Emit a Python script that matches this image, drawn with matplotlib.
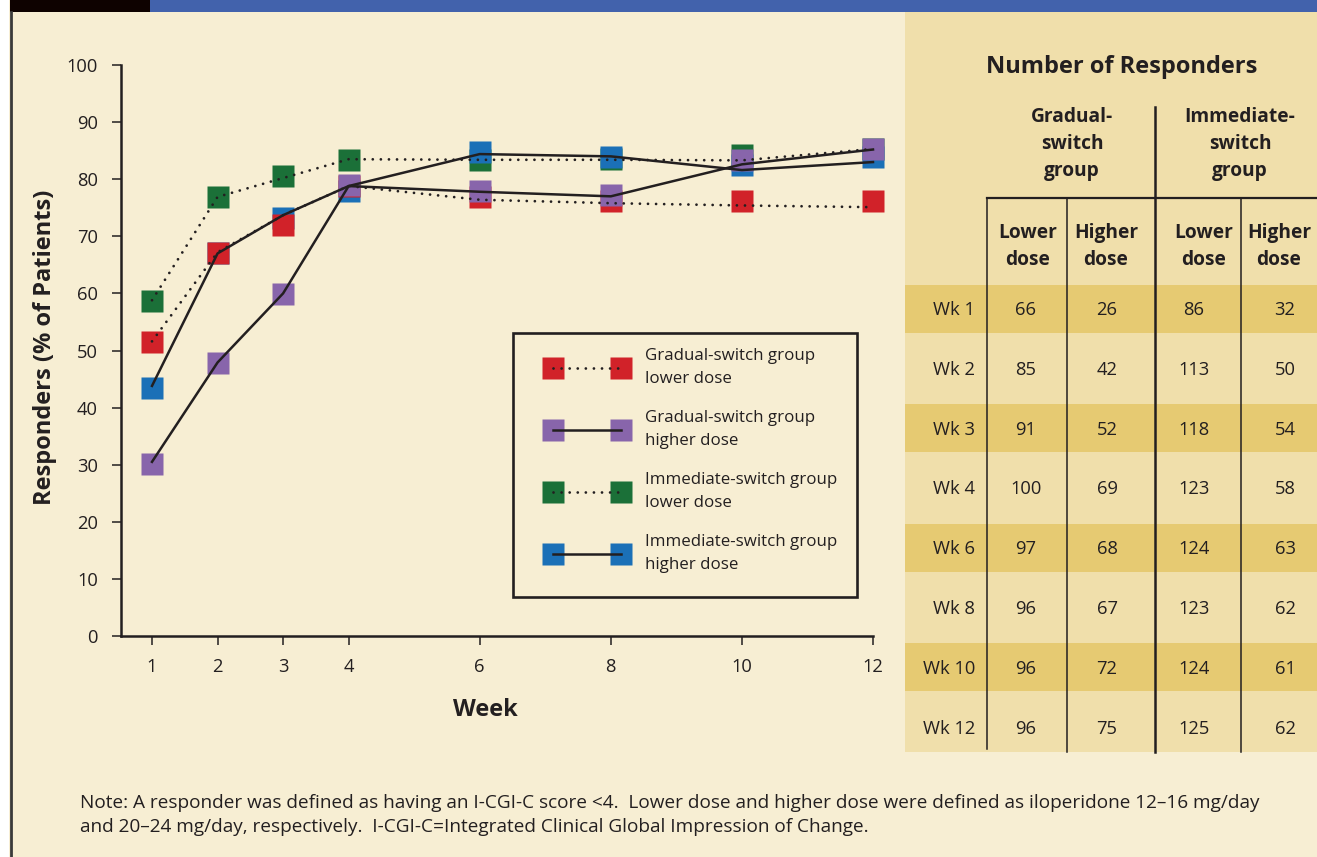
import matplotlib
matplotlib.use('Agg')
import matplotlib.pyplot as plt
from matplotlib.lines import Line2D
from matplotlib.patches import Rectangle
from matplotlib.legend_handler import HandlerLine2D, HandlerTuple

plt.rcParams['font.family'] = ['Open Sans', 'DejaVu Sans']

W, H = 1317, 857

# ---- chart data (responders, % of patients) ----
weeks = [1, 2, 3, 4, 6, 8, 10, 12]

# square markers
gs_low_pts = [51.5, 67.1, 72.0, 78.8, 76.9, 76.1, 76.2, 76.2]
gs_high_pts = [30.1, 47.8, 59.9, 79.0, 77.9, 77.2, 83.4, 85.3]
is_low_pts = [58.7, 76.9, 80.6, 83.4, 83.4, 83.6, 84.2, 85.3]
is_high_pts = [43.4, 67.0, 73.2, 78.0, 84.8, 83.9, 82.5, 83.9]

# connecting lines
gs_low_line = [51.6, 67.2, 73.7, 78.8, 76.4, 75.8, 75.4, 75.1]
gs_high_line = [30.5, 47.9, 60.0, 78.8, 77.8, 77.0, 82.6, 85.2]
is_low_line = [58.8, 76.9, 80.2, 83.5, 83.4, 83.4, 83.3, 85.3]
is_high_line = [43.8, 67.0, 73.7, 78.8, 84.4, 84.0, 81.6, 83.0]

series_labels = ['Gradual-switch group\nlower dose',
                 'Gradual-switch group\nhigher dose',
                 'Immediate-switch group\nlower dose',
                 'Immediate-switch group\nhigher dose']

# ---- table data (number of responders) ----
row_labels = ['Wk 1', 'Wk 2', 'Wk 3', 'Wk 4', 'Wk 6', 'Wk 8', 'Wk 10', 'Wk 12']
gs_lower_n = [66, 85, 91, 100, 97, 96, 96, 96]
gs_higher_n = [26, 42, 52, 69, 68, 67, 72, 75]
is_lower_n = [86, 113, 118, 123, 124, 123, 124, 125]
is_higher_n = [32, 50, 54, 58, 63, 62, 61, 62]

note_lines = ['Note: A responder was defined as having an I-CGI-C score <4.  Lower dose and higher dose were defined as iloperidone 12\u201316 mg/day',
              'and 20\u201324 mg/day, respectively.  I-CGI-C=Integrated Clinical Global Impression of Change.']

# colours
ink = '#231f20'
bg = '#f7eed3'
tab_light = '#f0dfab'
tab_dark = '#e6ca72'
red, purple, green, blue = '#d12229', '#8865ab', '#1b7038', '#1b70b7'

fig = plt.figure(figsize=(W / 100, H / 100), dpi=100, facecolor=bg)

# background / decoration layer in pixel coordinates
bgax = fig.add_axes([0, 0, 1, 1], zorder=0)
bgax.set_xlim(0, W)
bgax.set_ylim(H, 0)
bgax.axis('off')
bgax.add_patch(Rectangle((0, 0), 9, H, color='white', lw=0))
bgax.add_patch(Rectangle((10, 0), 140, 12, color='#0e0200', lw=0))
bgax.add_patch(Rectangle((150, 0), W - 150, 12, color='#4262ac', lw=0))
bgax.plot([10.5, 10.5], [12, H], color='#3a3a3a', lw=2)

# legend frame
bgax.add_patch(Rectangle((513, 333), 344, 264, facecolor=bg, edgecolor=ink, lw=1.9))

# table
bgax.add_patch(Rectangle((905, 12), W - 905, 740, color=tab_light, lw=0))
row_base0, row_step = 315, 59.8
for i in range(0, len(row_labels), 2):
    yc = row_base0 - 6.5 + i * row_step
    bgax.add_patch(Rectangle((905, yc - 24), W - 905, 48, color=tab_dark, lw=0))
bgax.plot([987, 987], [198, 749], color=ink, lw=1.1)
bgax.plot([1066.7, 1066.7], [198, 752], color=ink, lw=1.1)
bgax.plot([1155, 1155], [107, 752], color=ink, lw=1.8)
bgax.plot([1240.7, 1240.7], [198, 752], color=ink, lw=1.1)
bgax.plot([987, W], [198, 198], color=ink, lw=1.6)

bold = dict(fontweight='bold', color=ink, va='baseline', ha='center')
bgax.text(1122, 73, 'Number of Responders', fontsize=17, **bold)
for j, line in enumerate(['Gradual-', 'switch', 'group']):
    bgax.text(1072, 121.7 + 27 * j, line, fontsize=13.8, **bold)
for j, line in enumerate(['Immediate-', 'switch', 'group']):
    bgax.text(1240, 121.7 + 27 * j, line, fontsize=13.8, **bold)
for cx, word in zip([1028, 1106, 1204, 1279], ['Lower', 'Higher', 'Lower', 'Higher']):
    bgax.text(cx, 238, word, fontsize=13.8, **bold)
    bgax.text(cx, 265, 'dose', fontsize=13.8, **bold)

col_x = [1026, 1107, 1194, 1285]
for i, lab in enumerate(row_labels):
    yb = row_base0 + i * row_step
    bgax.text(975, yb, lab, ha='right', va='baseline', fontsize=13.2, color=ink)
    for cx, col in zip(col_x, [gs_lower_n, gs_higher_n, is_lower_n, is_higher_n]):
        bgax.text(cx, yb, str(col[i]), ha='center', va='baseline', fontsize=13.2, color=ink)

for j, line in enumerate(note_lines):
    bgax.text(80, 808 + 24 * j, line, ha='left', va='baseline', fontsize=13.7, color=ink)

# ---- main chart ----
ax = fig.add_axes([121 / W, 1 - 636 / H, (873 - 121) / W, (636 - 65) / H], zorder=1)
ax.set_facecolor('none')

ms = 15.8
dotted = dict(ls=(0, (0.01, 2.9)), lw=2.0, dash_capstyle='round')
solid = dict(ls='-', lw=1.8)

for pts, c, z in [(is_low_pts, green, 2), (is_high_pts, blue, 3),
                  (gs_low_pts, red, 4), (gs_high_pts, purple, 5)]:
    ax.plot(weeks, pts, ls='none', marker='s', ms=ms, mfc=c, mec='none', zorder=z, clip_on=False)

ax.plot(weeks, gs_low_line, color=ink, zorder=6, clip_on=False, **dotted)
ax.plot(weeks, is_low_line, color=ink, zorder=6, clip_on=False, **dotted)
ax.plot(weeks, gs_high_line, color=ink, zorder=6, clip_on=False, **solid)
ax.plot(weeks, is_high_line, color=ink, zorder=6, clip_on=False, **solid)

ax.set_xlim(0.527, 12)
ax.set_ylim(0, 100)
ax.set_xticks(weeks)
ax.set_yticks(range(0, 101, 10))
for s in ['top', 'right']:
    ax.spines[s].set_visible(False)
for s in ['left', 'bottom']:
    ax.spines[s].set_linewidth(1.8)
    ax.spines[s].set_color(ink)
ax.tick_params(direction='out', length=6.5, width=1.1, color=ink,
               labelsize=13.2, labelcolor=ink)
ax.tick_params(axis='y', pad=10)
ax.tick_params(axis='x', pad=9)

ax.set_xlabel('Week', fontsize=17, fontweight='bold', color=ink)
ax.xaxis.set_label_coords(0.485, -0.108)
ax.set_ylabel('Responders (% of Patients)', fontsize=17, fontweight='bold', color=ink)
ax.yaxis.set_label_coords(-0.085, 0.505)

# legend
handles = []
for c, st in [(red, dotted), (purple, solid), (green, dotted), (blue, solid)]:
    mk = Line2D([], [], ls='none', marker='s', ms=ms, mfc=c, mec='none')
    ln = Line2D([], [], color=ink, **st)
    handles.append((mk, ln))
leg = ax.legend(handles, series_labels,
                handler_map={tuple: HandlerTuple(ndivide=1), Line2D: HandlerLine2D(marker_pad=1.45)},
                numpoints=2, loc='upper left', bbox_to_anchor=(513 / W, 1 - 333 / H),
                bbox_transform=fig.transFigure, borderaxespad=0, borderpad=0.9,
                handlelength=6.9, handletextpad=0.0, labelspacing=1.36,
                frameon=False, prop={'size': 12.2})
for t in leg.get_texts():
    t.set_linespacing(1.58)
    t.set_color(ink)

fig.savefig('out.png', dpi=100, facecolor=bg)
